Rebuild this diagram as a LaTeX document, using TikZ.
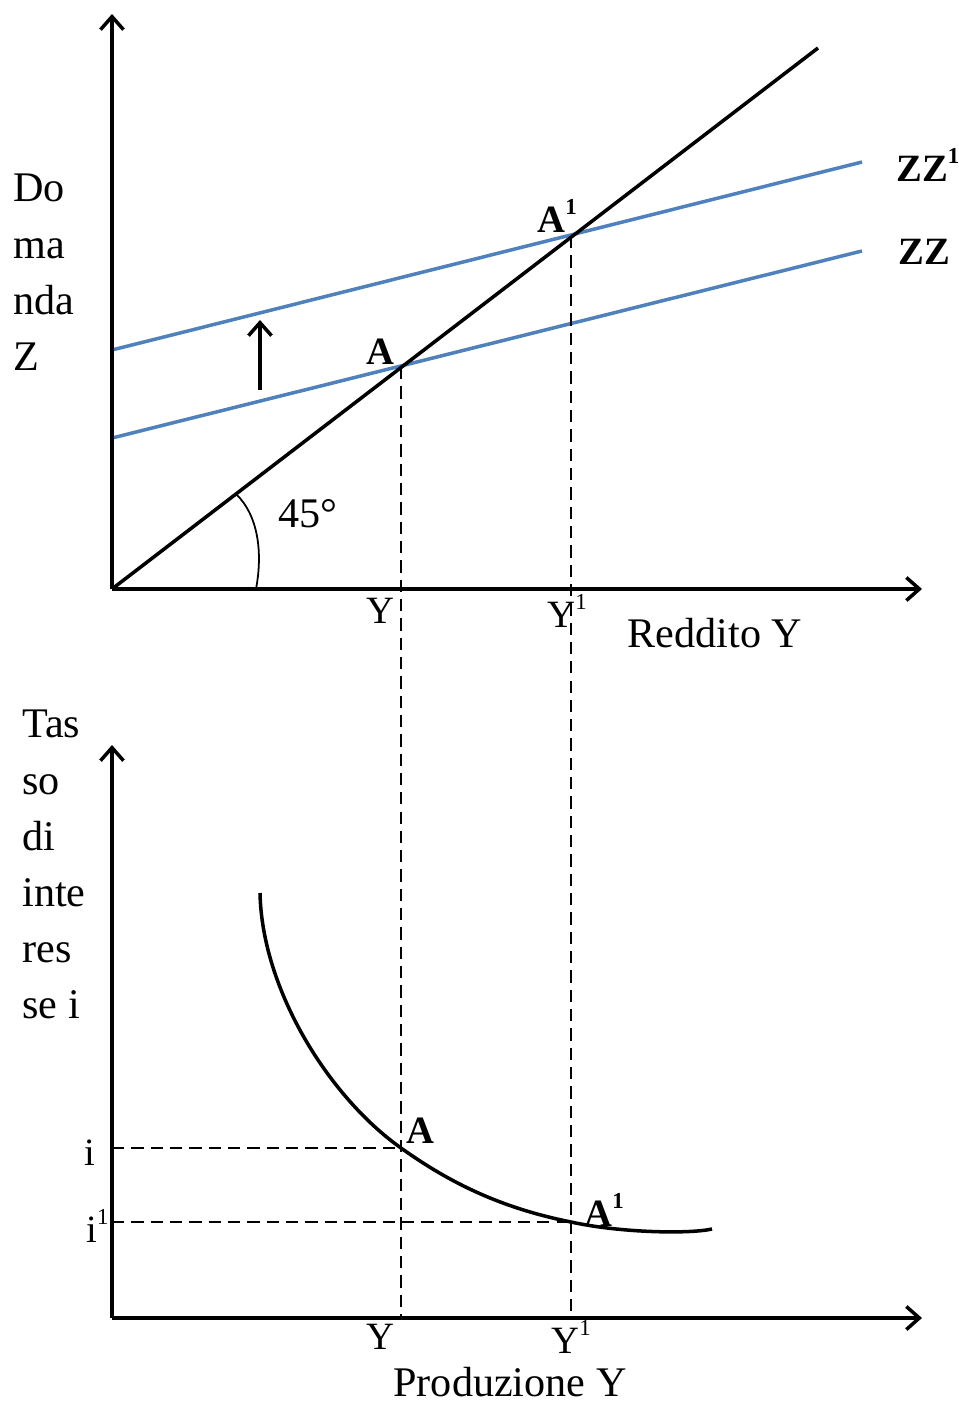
\documentclass[tikz,border=0pt]{standalone}
\usepackage{fontspec}
\setmainfont{Liberation Serif}
\usetikzlibrary{arrows.meta}
\definecolor{CurveBlue}{HTML}{4F81BD}
\newcommand{\esp}[1]{\raisebox{0.45em}{\fontsize{13}{13}\selectfont #1}}

\tikzset{
	axis/.style={line width=2pt,-{Straight Barb[length=2.6mm,width=4.6mm]}},
	guide/.style={line width=0.9pt,dash pattern=on 7pt off 4pt},
	zzline/.style={CurveBlue,line width=2pt},
	lbl/.style={inner sep=0pt,font=\fontsize{22}{26}\selectfont},
	ptlbl/.style={inner sep=0pt,font=\fontsize{22}{26}\selectfont\bfseries},
	title/.style={inner sep=0pt,align=left,anchor=north west,font=\fontsize{24}{31.9}\selectfont}
}

\begin{document}
\begin{tikzpicture}[x=0.02cm,y=-0.02cm]
	\useasboundingbox (0,0) rectangle (959,1405);
	
	% upper diagram
	\coordinate (O1) at (112,589);
	\coordinate (top1) at (112,14);
	\coordinate (right1) at (922,589);
	\coordinate (end45) at (818,48);
	\coordinate (A) at (401,367);
	\coordinate (A1) at (571,236);
	\coordinate (zz0) at (112,438);
	\coordinate (zz1) at (862,251);
	\coordinate (zzb0) at (112,350);
	\coordinate (zzb1) at (862,162);
	
	\draw[zzline] (zz0) -- (zz1);
	\draw[zzline] (zzb0) -- (zzb1);
	\draw[line width=2pt] (O1) -- (end45);
	\draw[axis] (O1) -- (top1);
	\draw[axis] (O1) -- (right1);
	
	\coordinate (arcs) at (256,589);
	\coordinate (arce) at (236,494);
	\draw[line width=1pt] (arcs) .. controls (263,552) and (258,515) .. (arce);
	
	\coordinate (up0) at (260,390);
	\coordinate (up1) at (260,320);
	\draw[axis] (up0) -- (up1);
	
	% lower diagram
	\coordinate (O2) at (112,1318);
	\coordinate (top2) at (112,745);
	\coordinate (right2) at (922,1318);
	\coordinate (B) at (401,1148);
	\coordinate (B1) at (571,1222);
	\coordinate (Yb) at (401,1318);
	\coordinate (Yb1) at (571,1318);
	\coordinate (ib) at (112,1148);
	\coordinate (ib1) at (112,1222);
	\coordinate (ls) at (260,893);
	\coordinate (le) at (712,1229);
	
	\draw[guide] (A) -- (Yb);
	\draw[guide] (A1) -- (Yb1);
	\draw[guide] (ib) -- (B);
	\draw[guide] (ib1) -- (B1);
	
	\draw[line width=2pt] (ls) .. controls (262,990) and (329,1097) .. (B)
		.. controls (450,1183) and (501,1208) .. (B1)
		.. controls (621,1233) and (690,1234) .. (le);
	\draw[axis] (O2) -- (top2);
	\draw[axis] (O2) -- (right2);
	
	% labels
	\node[title] (domanda) at (13,174) {Do\\ma\\nda\\Z};
	\node[title] (tasso) at (22,710) {Tas\\so\\di\\inte\\res\\se i};
	\node[lbl,font=\fontsize{24}{28}\selectfont] (angle) at (308,514) {45°};
	\node[ptlbl] (lA) at (380,352) {A};
	\node[ptlbl,anchor=west] (lA1) at (537,216) {A\esp{1}};
	\node[ptlbl,anchor=west] (lZZ1) at (896,165) {ZZ\esp{1}};
	\node[ptlbl,anchor=west] (lZZ) at (898,252) {ZZ};
	\node[lbl] (lY) at (380,611) {Y};
	\node[lbl,anchor=west] (lY1) at (547,611) {Y\esp{1}};
	\node[lbl,font=\fontsize{24}{28}\selectfont] (reddito) at (715,633) {Reddito Y};
	\node[ptlbl] (lB) at (420,1131) {A};
	\node[ptlbl,anchor=west] (lB1) at (584,1210) {A\esp{1}};
	\node[lbl] (li) at (90,1153) {i};
	\node[lbl,anchor=west] (li1) at (86,1226) {i\esp{1}};
	\node[lbl] (lYb) at (380,1337) {Y};
	\node[lbl,anchor=west] (lYb1) at (551,1337) {Y\esp{1}};
	\node[lbl,font=\fontsize{24}{28}\selectfont] (produzione) at (510,1382) {Produzione Y};
\end{tikzpicture}
\end{document}
